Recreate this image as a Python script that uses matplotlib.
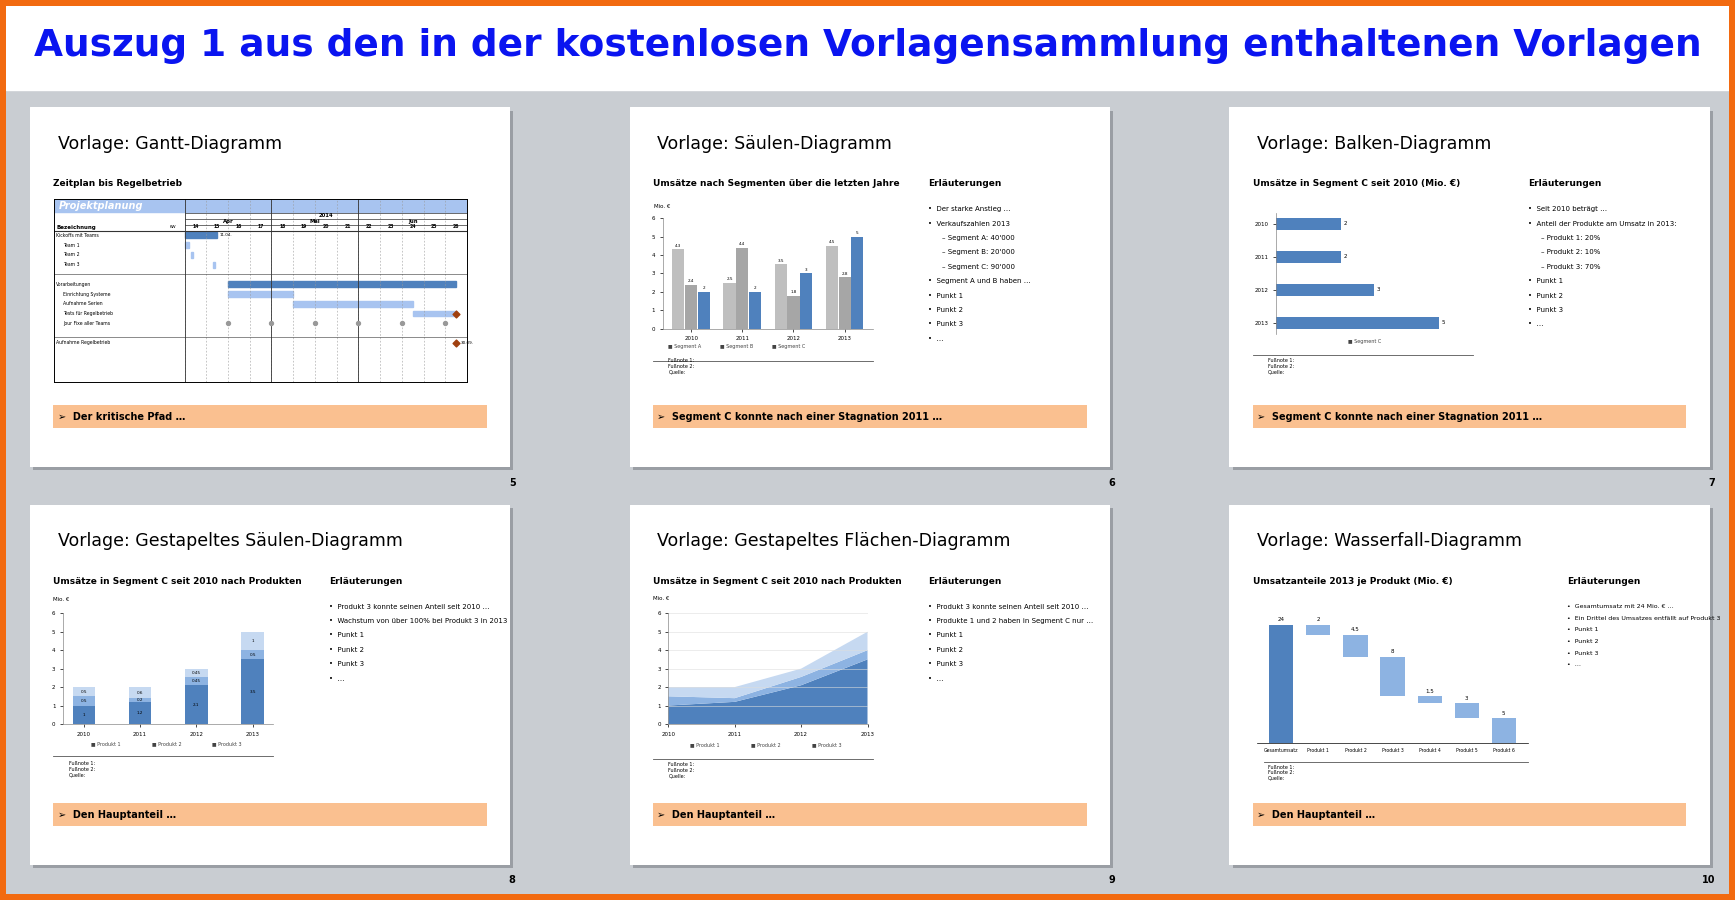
import matplotlib
matplotlib.use("Agg")
import matplotlib.pyplot as plt
from matplotlib.patches import Rectangle
import numpy as np

W, H = 1568, 813
years = ["2010", "2011", "2012", "2013"]
seg_a = [4.3, 2.5, 3.5, 4.5]
seg_b = [2.4, 4.4, 1.8, 2.8]
seg_c = [2, 2, 3, 5]
prod1 = [1, 1.2, 2.1, 3.5]
prod2 = [0.5, 0.2, 0.45, 0.5]
prod3 = [0.5, 0.6, 0.45, 1]
wf_labels = ["Gesamtumsatz", "Produkt 1", "Produkt 2", "Produkt 3", "Produkt 4", "Produkt 5", "Produkt 6"]
wf_values = [24, 2, 4.5, 8, 1.5, 3, 5]
gantt_tasks = ["Kickoffs mit Teams", "Team 1", "Team 2", "Team 3", "", "Vorarbeitungen", "Einrichtung Systeme",
               "Aufnahme Serien", "Tests für Regelbetrieb", "Jour Fixe aller Teams", "", "Aufnahme Regelbetrieb"]
gantt_start = [14, 14, 14.3, 15.3, None, 16, 16, 19, 24.5, None, None, None]
gantt_end = [15.5, 14.2, 14.4, 15.4, None, 26.5, 19, 24.5, 26.5, None, None, None]
jour_fixe = [16, 18, 20, 22, 24, 26]
weeks = list(range(14, 27))

DARK = "#4f81bd"; MID = "#8db3e2"; LIGHT = "#c6d9f1"
fig = plt.figure(figsize=(17.35, 9), dpi=100)
fig.patch.set_facecolor("#f26a10")

def ax_px(x, y, w, h, **kw):
    return fig.add_axes([x / W, 1 - (y + h) / H, w / W, h / H], **kw)

def T(x, y, s, **kw):
    fig.text(x / W, 1 - y / H, s, **kw)

bg = ax_px(5, 5, W - 10, H - 10); bg.axis("off")
bg.add_patch(Rectangle((0, 0), 1, 1, color="#c9cdd2", transform=bg.transAxes))
bg.add_patch(Rectangle((0, 0.905), 1, 0.095, color="white", transform=bg.transAxes))
T(W / 2, 42, "Auszug 1 aus den in der kostenlosen Vorlagensammlung enthaltenen Vorlagen",
  ha="center", va="center", fontsize=27, fontweight="bold", color="#0a14f0")

cols = [27, 569, 1111]; rows = [97, 456]
titles = ["Vorlage: Gantt-Diagramm", "Vorlage: Säulen-Diagramm", "Vorlage: Balken-Diagramm",
          "Vorlage: Gestapeltes Säulen-Diagramm", "Vorlage: Gestapeltes Flächen-Diagramm", "Vorlage: Wasserfall-Diagramm"]
subs = ["Zeitplan bis Regelbetrieb", "Umsätze nach Segmenten über die letzten Jahre", "Umsätze in Segment C seit 2010 (Mio. €)",
        "Umsätze in Segment C seit 2010 nach Produkten", "Umsätze in Segment C seit 2010 nach Produkten", "Umsatzanteile 2013 je Produkt (Mio. €)"]
bars = ["Der kritische Pfad …", "Segment C konnte nach einer Stagnation 2011 …", "Segment C konnte nach einer Stagnation 2011 …",
        "Den Hauptanteil …", "Den Hauptanteil …", "Den Hauptanteil …"]
bullets = [None,
           ["Der starke Anstieg …", "Verkaufszahlen 2013", "– Segment A: 40'000", "– Segment B: 20'000", "– Segment C: 90'000",
            "Segment A und B haben …", "Punkt 1", "Punkt 2", "Punkt 3", "…"],
           ["Seit 2010 beträgt …", "Anteil der Produkte am Umsatz in 2013:", "– Produkt 1: 20%", "– Produkt 2: 10%",
            "– Produkt 3: 70%", "Punkt 1", "Punkt 2", "Punkt 3", "…"],
           ["Produkt 3 konnte seinen Anteil seit 2010 …", "Wachstum von über 100% bei Produkt 3 in 2013", "Punkt 1", "Punkt 2", "Punkt 3", "…"],
           ["Produkt 3 konnte seinen Anteil seit 2010 …", "Produkte 1 und 2 haben in Segment C nur …", "Punkt 1", "Punkt 2", "Punkt 3", "…"],
           ["Gesamtumsatz mit 24 Mio. € …", "Ein Drittel des Umsatzes entfällt auf Produkt 3", "Punkt 1", "Punkt 2", "Punkt 3", "…"]]
bul_x = [0, 240, 240, 240, 240, 275]
nums = ["5", "6", "7", "8", "9", "10"]

k = 0
slides = []
for r in rows:
    for c in cols:
        sh = ax_px(c + 3, r + 3, 434, 325); sh.axis("off")
        sh.add_patch(Rectangle((0, 0), 1, 1, color="#9a9ea4", transform=sh.transAxes))
        s = ax_px(c, r, 434, 325); s.axis("off")
        s.add_patch(Rectangle((0, 0), 1, 1, color="white", transform=s.transAxes))
        T(c + 25, r + 33, titles[k], fontsize=12.5, va="center")
        T(c + 21, r + 69, subs[k], fontsize=6.5, fontweight="bold", va="center")
        ob = ax_px(c + 21, r + 269, 392, 21); ob.axis("off")
        ob.add_patch(Rectangle((0, 0), 1, 1, color="#fac090", transform=ob.transAxes))
        T(c + 25, r + 280, "➢  " + bars[k], fontsize=7, fontweight="bold", va="center")
        T(c + 439, r + 339, nums[k], fontsize=7, fontweight="bold", ha="right", va="center")
        if bullets[k]:
            bx = c + bul_x[k]
            T(bx + 30, r + 69, "Erläuterungen", fontsize=6.5, fontweight="bold", va="center")
            for i, b in enumerate(bullets[k]):
                sub = b.startswith("–")
                step = 13 if k != 5 else 10.5
                T(bx + 30 + (12 if sub else 0), r + 92 + i * step, ("" if sub else "•  ") + b,
                  fontsize=5 if k != 5 else 4.5, va="center")
            if k in (1, 2, 3, 4, 5):
                for j, fn in enumerate(["Fußnote 1:", "Fußnote 2:", "Quelle:"]):
                    T(c + 35, r + [233, 229, 229, 234, 235, 237][k] + j * 5, fn, fontsize=3.5, va="center")
        slides.append((c, r))
        k += 1

def style(ax, fs=4.5):
    for sp in ["top", "right"]:
        ax.spines[sp].set_visible(False)
    ax.tick_params(labelsize=fs, length=2, width=0.5)
    for sp in ax.spines.values():
        sp.set_linewidth(0.5); sp.set_color("#888")

# 1 Gantt
c, r = slides[0]
g = ax_px(c + 22, r + 83, 373, 165)
n = len(gantt_tasks)
g.set_xlim(8, 27); g.set_ylim(n + 3.5, -3.2)
g.add_patch(Rectangle((8, -3.2), 19, 1.3, color="#a8c4f0"))
g.text(8.2, -2.55, "Projektplanung", color="white", fontsize=7, style="italic", fontweight="bold", va="center")
for i, t in enumerate(gantt_tasks):
    g.text(8.1 + (0.3 if t.startswith("Team") or t in ("Einrichtung Systeme", "Aufnahme Serien", "Tests für Regelbetrieb", "Jour Fixe aller Teams") else 0),
           i + 0.5, t, fontsize=3.3, va="center")
    if gantt_start[i] is not None:
        col = DARK if i in (0, 5) else "#a8c4f0"
        g.add_patch(Rectangle((gantt_start[i], i + 0.2), gantt_end[i] - gantt_start[i], 0.6, color=col))
g.text(15.6, 0.5, "11.04.", fontsize=3, va="center")
g.scatter(jour_fixe, [9.5] * len(jour_fixe), s=8, color="#999", zorder=3)
g.scatter([26.5, 26.5], [8.5, 11.5], marker="D", s=12, color="#a0400f", zorder=3)
g.text(26.7, 11.5, "30.09.", fontsize=3, va="center")
for wk in weeks:
    g.axvline(wk, color="#999", lw=0.4, ls=(0, (3, 3)))
    g.text(wk + 0.5, -0.2, str(wk), fontsize=3.3, ha="center", va="bottom", fontweight="bold")
for x0, x1, m in [(14, 18, "Apr"), (18, 22, "Mai"), (22, 27, "Jun")]:
    g.text((x0 + x1) / 2, -0.9, m, fontsize=3.8, ha="center", va="center", fontweight="bold")
    g.axvline(x0, color="#333", lw=0.6)
g.text(20.5, -1.5, "2014", fontsize=3.8, ha="center", va="center", fontweight="bold")
g.text(8.1, -0.35, "Bezeichnung", fontsize=4, fontweight="bold", va="center")
g.text(13.6, -0.35, "KW", fontsize=3, va="center", ha="right")
for yy in [-1.8, -1.2, -0.6, 0]:
    g.plot([14, 27], [yy, yy], color="#333", lw=0.5)
g.plot([8, 27], [0, 0], color="#333", lw=0.8)
g.axhline(4.5, color="#333", lw=0.4); g.axhline(10.9, color="#333", lw=0.4)
g.set_xticks([]); g.set_yticks([])
for sp in g.spines.values():
    sp.set_linewidth(0.7)

# 2 Säulen
c, r = slides[1]
a = ax_px(c + 30, r + 100, 190, 100)
x = np.arange(4); w = 0.25
for off, v, col in [(-w, seg_a, "#bfbfbf"), (0, seg_b, "#a6a6a6"), (w, seg_c, DARK)]:
    bb = a.bar(x + off, v, w * 0.95, color=col)
    a.bar_label(bb, labels=[str(vv) for vv in v], fontsize=3, padding=1)
a.set_xticks(x, years); a.set_ylim(0, 6); a.set_yticks(range(7)); style(a, 4)
T(c + 22, r + 91, "Mio. €", fontsize=4)
for i, lb in enumerate(["Segment A", "Segment B", "Segment C"]):
    T(c + 35 + i * 47, r + 217, "■ " + lb, fontsize=3.5, color="#444")
fig.add_artist(plt.Line2D([(c + 21) / W, (c + 220) / W], [1 - (r + 229) / H] * 2, color="#555", lw=0.6))

# 3 Balken
c, r = slides[2]
a = ax_px(c + 42, r + 95, 165, 110)
bb = a.barh(years, seg_c, 0.35, color=DARK)
a.bar_label(bb, fontsize=4, padding=2)
a.invert_yaxis(); a.set_xlim(0, 5.6); a.set_xticks([]); style(a, 4)
a.spines["bottom"].set_visible(False)
T(c + 107, r + 213, "■ Segment C", fontsize=3.5, color="#444")
fig.add_artist(plt.Line2D([(c + 21) / W, (c + 220) / W], [1 - (r + 224) / H] * 2, color="#555", lw=0.6))

# 4 gestapelte Säulen
c, r = slides[3]
a = ax_px(c + 30, r + 98, 190, 100)
bot = np.zeros(4)
for v, col in [(prod1, DARK), (prod2, MID), (prod3, LIGHT)]:
    bb = a.bar(x, v, 0.4, bottom=bot, color=col)
    a.bar_label(bb, labels=[str(vv) for vv in v], label_type="center", fontsize=3)
    bot += np.array(v)
a.set_xticks(x, years); a.set_ylim(0, 6); a.set_yticks(range(7)); style(a, 4)
T(c + 21, r + 87, "Mio. €", fontsize=4)
for i, lb in enumerate(["Produkt 1", "Produkt 2", "Produkt 3"]):
    T(c + 55 + i * 55, r + 217, "■ " + lb, fontsize=3.5, color="#444")
fig.add_artist(plt.Line2D([(c + 21) / W, (c + 220) / W], [1 - (r + 227) / H] * 2, color="#555", lw=0.6))

# 5 gestapelte Fläche
c, r = slides[4]
a = ax_px(c + 35, r + 98, 180, 100)
a.stackplot(np.arange(4), prod1, prod2, prod3, colors=[DARK, MID, LIGHT])
a.set_xlim(0, 3); a.set_xticks(x, years); a.set_ylim(0, 6); a.set_yticks(range(7)); style(a, 4)
a.yaxis.grid(True, color="#ddd", lw=0.4)
T(c + 21, r + 86, "Mio. €", fontsize=4)
for i, lb in enumerate(["Produkt 1", "Produkt 2", "Produkt 3"]):
    T(c + 55 + i * 55, r + 218, "■ " + lb, fontsize=3.5, color="#444")
fig.add_artist(plt.Line2D([(c + 21) / W, (c + 220) / W], [1 - (r + 230) / H] * 2, color="#555", lw=0.6))

# 6 Wasserfall
c, r = slides[5]
a = ax_px(c + 25, r + 95, 245, 120)
tops = [wf_values[0]]
for v in wf_values[1:]:
    tops.append(tops[-1] - (0 if len(tops) == 1 else wf_values[len(tops) - 1]))
cur = wf_values[0]
bottoms = [0]; heights = [wf_values[0]]
for v in wf_values[1:]:
    bottoms.append(cur - v); heights.append(v); cur -= v
cols6 = [DARK] + [MID] * 6
a.bar(range(7), heights, 0.65, bottom=bottoms, color=cols6)
for i in range(7):
    a.text(i, bottoms[i] + heights[i] + 0.5, str(wf_values[i]), fontsize=4, ha="center", va="bottom")
a.set_xticks(range(7), wf_labels, fontsize=3.3); a.set_yticks([]); a.set_ylim(0, 27)
for sp in ["top", "right", "left"]:
    a.spines[sp].set_visible(False)
a.tick_params(length=0); a.spines["bottom"].set_linewidth(0.5)
fig.add_artist(plt.Line2D([(c + 31) / W, (c + 270) / W], [1 - (r + 232) / H] * 2, color="#555", lw=0.6))

fig.savefig("out.png", dpi=100, facecolor=fig.get_facecolor())
